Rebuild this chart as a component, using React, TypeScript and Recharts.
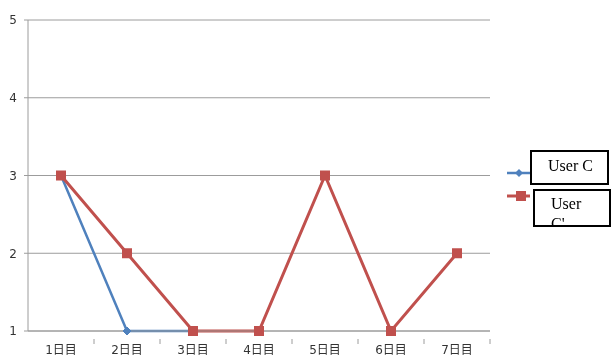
import React from 'react';
import { LineChart, Line, XAxis, YAxis, CartesianGrid } from 'recharts';

const days = ['1日目', '2日目', '3日目', '4日目', '5日目', '6日目', '7日目'];
const userC = [3, 1, 1, null, null, null, null];
const userCPrime = [3, 2, 1, 1, 3, 1, 2];
const yTicks = [1, 2, 3, 4, 5];
const seriesNames = ['User C', "User C'"];

const BLUE = '#4f81bd';
const RED = '#c0504d';
const GRID = '#9c9c9c';

const data = days.map((day, i) => ({ day, c: userC[i], cp: userCPrime[i] }));

const Diamond = (props: any) => {
  const { cx, cy, value } = props;
  if (value == null || cx == null) return null;
  const r = 4;
  return (
    <path
      d={`M${cx},${cy - r} L${cx + r},${cy} L${cx},${cy + r} L${cx - r},${cy} Z`}
      fill={BLUE}
      stroke={BLUE}
    />
  );
};

const Square = (props: any) => {
  const { cx, cy, value } = props;
  if (value == null || cx == null) return null;
  const s = 10;
  return <rect x={cx - s / 2} y={cy - s / 2} width={s} height={s} fill={RED} />;
};

// category label centred in its band, tick mark on the band's right edge
const DayTick = (props: any) => {
  const { x, y, payload } = props;
  const half = 33;
  return (
    <g>
      <line x1={x + half} y1={y} x2={x + half} y2={y + 5} stroke={GRID} />
      <text
        x={x}
        y={y + 15}
        textAnchor="middle"
        fontSize={12}
        fontFamily="'DejaVu Sans', 'Noto Sans CJK JP', sans-serif"
        fill="#333"
      >
        {payload.value}
      </text>
    </g>
  );
};

const boxStyle: React.CSSProperties = {
  position: 'absolute',
  background: '#fff',
  border: '2px solid #000',
  boxSizing: 'border-box',
  fontFamily: "'Liberation Serif', serif",
  fontSize: 16,
  lineHeight: '20px',
  overflow: 'hidden',
  color: '#000',
};

export default function App() {
  return (
    <div style={{ position: 'absolute', left: 0, top: 0, width: 616, height: 356, background: '#fff', filter: 'blur(0.3px)' }}>
      <LineChart width={616} height={356} data={data} margin={{ top: 20, right: 126, bottom: 0, left: 0 }}>
        <CartesianGrid horizontal vertical={false} stroke={GRID} strokeWidth={1} />
        <XAxis
          dataKey="day"
          scale="band"
          height={25}
          stroke={GRID}
          tickLine={false}
          tick={<DayTick />}
          interval={0}
        />
        <YAxis
          type="number"
          domain={[1, 5]}
          ticks={yTicks}
          width={28}
          stroke={GRID}
          tickSize={4}
          tickMargin={7}
          tick={{ fontSize: 12, fill: '#333', fontFamily: "'DejaVu Sans', sans-serif" }}
        />
        <Line
          dataKey="c"
          stroke={BLUE}
          strokeWidth={2.5}
          dot={<Diamond />}
          activeDot={false}
          isAnimationActive={false}
        />
        <Line
          dataKey="cp"
          stroke={RED}
          strokeWidth={3}
          dot={<Square />}
          activeDot={false}
          isAnimationActive={false}
        />
      </LineChart>

      {/* legend */}
      <svg style={{ position: 'absolute', left: 500, top: 160 }} width={40} height={50}>
        <line x1={7} y1={13} x2={30} y2={13} stroke={BLUE} strokeWidth={2.5} />
        <path d="M19,9 L23,13 L19,17 L15,13 Z" fill={BLUE} />
        <line x1={7} y1={36} x2={30} y2={36} stroke={RED} strokeWidth={3} />
        <rect x={16} y={31} width={10} height={10} fill={RED} />
      </svg>
      <div style={{ ...boxStyle, left: 530, top: 150, width: 79, height: 35, padding: '4px 0 0 16px' }}>
        {seriesNames[0]}
      </div>
      <div style={{ ...boxStyle, left: 533, top: 189, width: 78, height: 38, padding: '3px 0 0 16px' }}>
        <div style={{ width: 40 }}>{seriesNames[1]}</div>
      </div>
    </div>
  );
}
